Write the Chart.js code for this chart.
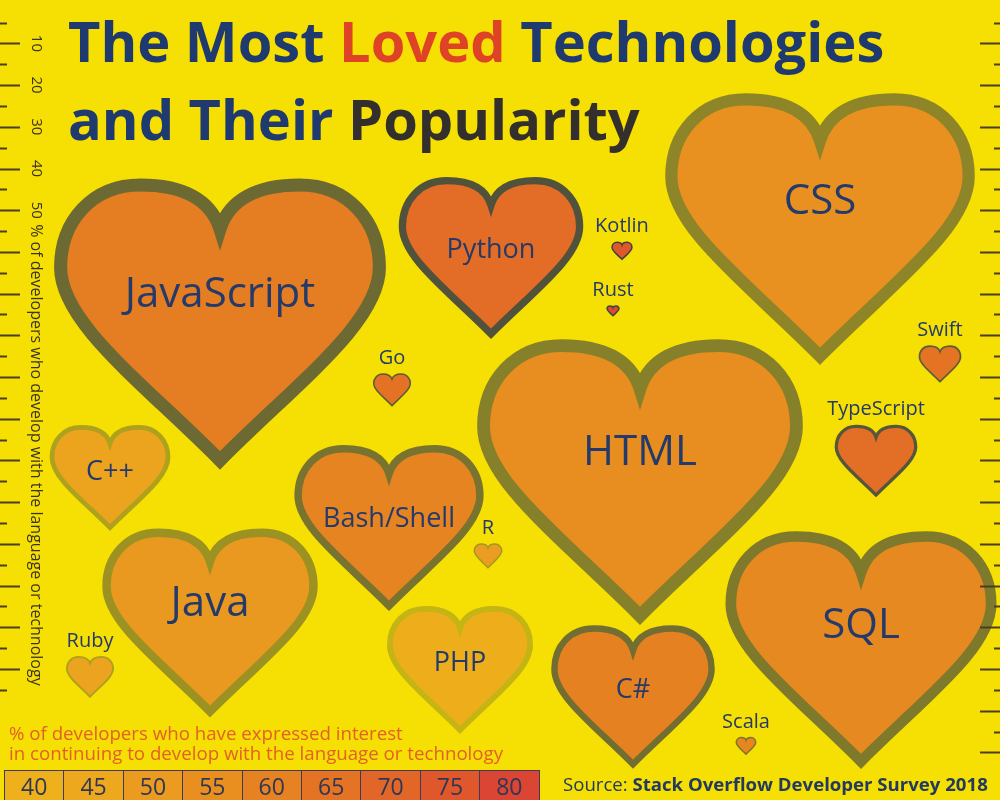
<!DOCTYPE html>
<html lang="en">
<head>
    <meta charset="UTF-8" />
    <meta name="viewport" content="width=device-width, initial-scale=1.0"/>
    <title>The Most Loved Technologies and Their Popularity</title>
    <script src="https://cdn.jsdelivr.net/npm/chart.js"></script>
    <style>
        body { margin: 0; background: #F6DF03; font-family: 'Open Sans', sans-serif; }
        #wrap { position: relative; width: 1000px; height: 800px; overflow: hidden; background: #F6DF03; }
        #heartChart { position: absolute; left: 0; top: 0; }
        .title { position: absolute; left: 68px; font-weight: 700; font-size: 56px; line-height: 56px; color: #1F3A6E; white-space: nowrap; }
        .title .loved { color: #DE4326; }
        .title .dark { color: #332F2C; }
        #legendTitle { position: absolute; left: 9px; top: 723px; font-size: 18.7px; line-height: 20px; color: #E2602A; white-space: nowrap; }
        #legendBoxes { position: absolute; left: 4px; top: 770px; display: flex; border: 1.5px solid #3F3A58; border-bottom: none; }
        #legendBoxes div { width: 58.4px; height: 32px; line-height: 30px; text-align: center; font-size: 23px; color: #2F3753; border-right: 1.5px solid #3F3A58; }
        #legendBoxes div:last-child { border-right: none; }
        #source { position: absolute; left: 563px; top: 771px; font-size: 18.6px; line-height: 26px; color: #233A5E; white-space: nowrap; }
        #source b { font-weight: 700; }
    </style>
</head>
<body>
<div id="wrap">
    <canvas id="heartChart" width="1000" height="800"></canvas>
    <div class="title" style="top: 12px;">The Most <span class="loved">Loved</span> Technologies</div>
    <div class="title" style="top: 90px;">and Their <span class="dark">Popularity</span></div>
    <div id="legendTitle">% of developers who have expressed interest<br>in continuing to develop with the language or technology</div>
    <div id="legendBoxes"></div>
    <div id="source">Source: <b>Stack Overflow Developer Survey 2018</b></div>
</div>

<script>
    // survey values
    const techs = ['JavaScript', 'HTML', 'CSS', 'SQL', 'Java', 'Bash/Shell', 'Python', 'C#', 'PHP', 'C++',
                   'TypeScript', 'Ruby', 'Swift', 'Go', 'R', 'Kotlin', 'Scala', 'Rust'];
    const popularity = [69.8, 68.5, 65.1, 57.0, 45.3, 39.8, 38.8, 34.4, 30.7, 25.4,
                        17.4, 10.1, 9.0, 8.0, 6.1, 4.5, 4.4, 2.8];
    const loved = [61.9, 55.7, 54.3, 57.5, 50.7, 59.1, 68.0, 60.4, 41.6, 46.7,
                   67.0, 47.1, 65.1, 65.6, 49.4, 75.1, 58.5, 78.9];
    // where each heart sits in the layout (x / y layout units)
    const posX = [220, 640, 820, 861, 210, 389, 491, 633, 460, 110, 876, 90, 940, 392, 488, 622, 746, 613];
    const posY = [324, 482, 229, 650, 623, 528, 258, 697, 670, 478, 461, 677, 364, 390, 556, 251, 746, 311];
    // colour legend ticks
    const lovedTicks = [40, 45, 50, 55, 60, 65, 70, 75, 80];
    // ruler tick labels on the left
    const rulerLabels = [10, 20, 30, 40, 50];

    const palette = ['#EEB11B', '#EDA81E', '#EA9B20', '#E88F20', '#E68222', '#E47424', '#E26628', '#E0572C', '#DB4533'];
    const bgColor = '#F6DF03';
    const labelColor = '#243A6A';
    const rulerColor = '#4A3E1E';
    const leftRulerMax = 165;
    const rightRulerMax = 180;

    function hexToRgb(h) {
        return [parseInt(h.slice(1, 3), 16), parseInt(h.slice(3, 5), 16), parseInt(h.slice(5, 7), 16)];
    }
    function mix(a, b, t) {
        return 'rgb(' + a.map((v, i) => Math.round(v + (b[i] - v) * t)).join(',') + ')';
    }
    function lovedColor(v) {
        const first = lovedTicks[0], step = lovedTicks[1] - lovedTicks[0];
        let f = (v - first) / step;
        f = Math.max(0, Math.min(palette.length - 1, f));
        const i = Math.min(palette.length - 2, Math.floor(f));
        return mix(hexToRgb(palette[i]), hexToRgb(palette[i + 1]), f - i);
    }
    function strokeColor(v) {
        const a = Math.max(0.15, Math.min(0.88, (v - 30) / 48));
        return mix(hexToRgb(bgColor), [38, 45, 75], a);
    }

    // legend boxes
    const legendBoxes = document.getElementById('legendBoxes');
    lovedTicks.forEach(t => {
        const d = document.createElement('div');
        d.textContent = t;
        d.style.background = lovedColor(t);
        legendBoxes.appendChild(d);
    });

    function heartPath(ctx, cx, top, w, h) {
        const l = cx - w / 2;
        const X = u => l + u * w;
        const Y = v => top + v * h;
        ctx.beginPath();
        ctx.moveTo(X(0.5), Y(0.16));
        ctx.bezierCurveTo(X(0.53), Y(0.05), X(0.62), Y(0), X(0.75), Y(0));
        ctx.bezierCurveTo(X(0.9), Y(0), X(1), Y(0.13), X(1), Y(0.3));
        ctx.bezierCurveTo(X(1), Y(0.5), X(0.74), Y(0.72), X(0.5), Y(1));
        ctx.bezierCurveTo(X(0.26), Y(0.72), X(0), Y(0.5), X(0), Y(0.3));
        ctx.bezierCurveTo(X(0), Y(0.13), X(0.1), Y(0), X(0.25), Y(0));
        ctx.bezierCurveTo(X(0.38), Y(0), X(0.47), Y(0.05), X(0.5), Y(0.16));
        ctx.closePath();
    }

    const bgPlugin = {
        id: 'bg',
        beforeDraw(chart) {
            const ctx = chart.ctx;
            ctx.save();
            ctx.fillStyle = bgColor;
            ctx.fillRect(0, 0, chart.width, chart.height);
            ctx.restore();
        }
    };

    const heartPlugin = {
        id: 'hearts',
        afterDatasetsDraw(chart) {
            const ctx = chart.ctx;
            const ruler = chart.scales.ruler;
            const meta = chart.getDatasetMeta(0);
            meta.data.forEach((pt, i) => {
                const H = Math.abs(ruler.getPixelForValue(popularity[i]) - ruler.getPixelForValue(0));
                const W = H * 1.14;
                const top = pt.y - H / 2;
                const lw = Math.max(1.5, H * 0.045);
                ctx.save();
                ctx.lineJoin = 'miter';
                ctx.miterLimit = 4;
                heartPath(ctx, pt.x, top + lw / 2, W - lw, H - lw * 1.2);
                ctx.fillStyle = lovedColor(loved[i]);
                ctx.fill();
                ctx.lineWidth = lw;
                ctx.strokeStyle = strokeColor(loved[i]);
                ctx.stroke();

                ctx.fillStyle = labelColor;
                ctx.textAlign = 'center';
                ctx.textBaseline = 'middle';
                if (popularity[i] >= 45) {
                    ctx.font = '42px "Open Sans"';
                    ctx.fillText(techs[i], pt.x, top + H * 0.4);
                } else if (popularity[i] >= 20) {
                    ctx.font = '27px "Open Sans"';
                    ctx.fillText(techs[i], pt.x, top + H * 0.45);
                } else {
                    ctx.font = '20px "Open Sans"';
                    ctx.fillText(techs[i], pt.x, top - 15);
                }
                ctx.restore();
            });
        }
    };

    const rulerPlugin = {
        id: 'ruler',
        afterDraw(chart) {
            const ctx = chart.ctx;
            const ruler = chart.scales.ruler;
            ctx.save();
            ctx.strokeStyle = rulerColor;
            ctx.lineWidth = 2;
            ruler.ticks.forEach(t => {
                const v = Math.round(t.value * 100) / 100;
                if (v <= 0 || v % 5 !== 0) return;
                const y = Math.round(ruler.getPixelForValue(v)) + 0.5;
                const long = v % 10 === 0;
                ctx.beginPath();
                if (v <= leftRulerMax) {
                    ctx.moveTo(0, y);
                    ctx.lineTo(long ? 20 : 7, y);
                }
                if (v <= rightRulerMax) {
                    ctx.moveTo(1000, y);
                    ctx.lineTo(long ? 980 : 994, y);
                }
                ctx.stroke();
            });

            ctx.fillStyle = '#3A3322';
            ctx.font = '15px "Open Sans"';
            ctx.textAlign = 'center';
            ctx.textBaseline = 'middle';
            rulerLabels.forEach(v => {
                ctx.save();
                ctx.translate(36, ruler.getPixelForValue(v));
                ctx.rotate(Math.PI / 2);
                ctx.fillText(String(v), 0, 0);
                ctx.restore();
            });
            const last = rulerLabels[rulerLabels.length - 1];
            ctx.save();
            ctx.translate(36, ruler.getPixelForValue(last) + 14);
            ctx.rotate(Math.PI / 2);
            ctx.textAlign = 'left';
            ctx.font = '16px "Open Sans"';
            ctx.fillText('% of developers who develop with the language or technology', 0, 0);
            ctx.restore();
            ctx.restore();
        }
    };

    const points = techs.map((t, i) => ({ x: posX[i], y: posY[i] }));

    new Chart(document.getElementById('heartChart').getContext('2d'), {
        type: 'scatter',
        data: {
            datasets: [{
                label: 'Technologies',
                data: points,
                pointRadius: 0,
                pointHoverRadius: 0
            }]
        },
        options: {
            responsive: false,
            animation: false,
            events: [],
            layout: { padding: 0 },
            plugins: {
                legend: { display: false },
                tooltip: { enabled: false }
            },
            scales: {
                x: { type: 'linear', min: 0, max: 1000, display: false },
                y: { type: 'linear', min: 0, max: 800, reverse: true, display: false },
                ruler: { type: 'linear', axis: 'y', min: -0.4, max: 191.4, reverse: true, display: false, ticks: { stepSize: 5 } }
            }
        },
        plugins: [bgPlugin, heartPlugin, rulerPlugin]
    });
</script>
</body>
</html>
